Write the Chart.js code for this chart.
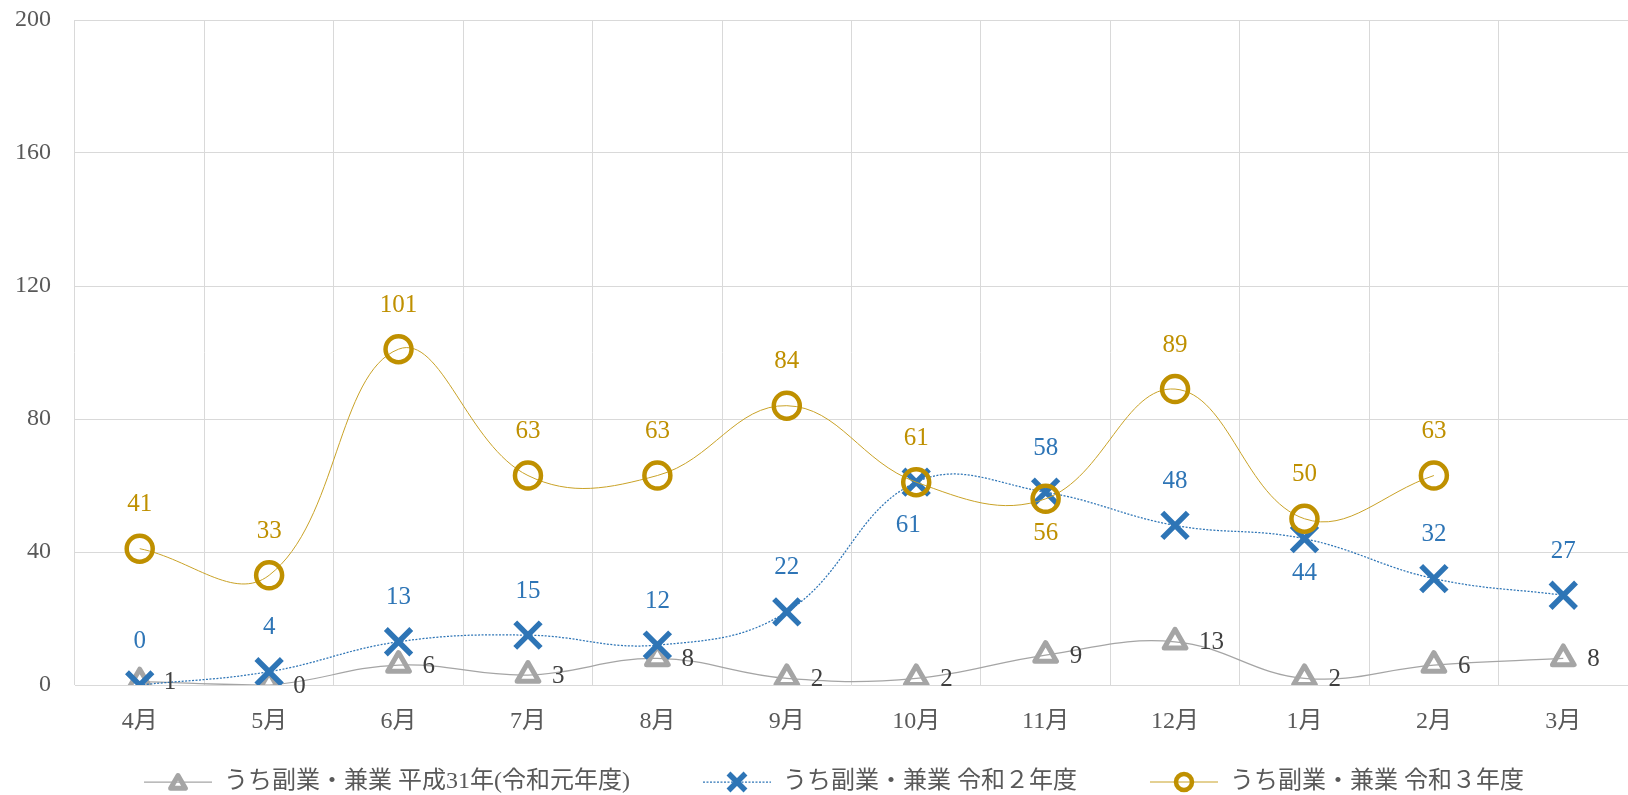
<!DOCTYPE html>
<html lang="ja">
<head>
<meta charset="utf-8">
<title>うち副業・兼業</title>
<script src="https://cdn.jsdelivr.net/npm/chart.js@4"></script>
<style>
    html, body { margin: 0; padding: 0; background: #ffffff; overflow: hidden; }
    #chart { display: block; }
</style>
</head>
<body>
<canvas id="chart" width="1628" height="795"></canvas>
<script>
// ========================
// Data
// ========================
const months = ['4月', '5月', '6月', '7月', '8月', '9月', '10月', '11月', '12月', '1月', '2月', '3月'];
const yTicks = [0, 40, 80, 120, 160, 200];

const seriesNames = [
    'うち副業・兼業 平成31年(令和元年度)',
    'うち副業・兼業 令和２年度',
    'うち副業・兼業 令和３年度'
];
const fy2019 = [1, 0, 6, 3, 8, 2, 2, 9, 13, 2, 6, 8];
const fy2020 = [0, 4, 13, 15, 12, 22, 61, 58, 48, 44, 32, 27];
const fy2021 = [41, 33, 101, 63, 63, 84, 61, 56, 89, 50, 63, null];

const FONT = "'Liberation Serif', 'Noto Sans CJK JP', serif";
const TEXT_GRAY = '#595959';

// ========================
// Plugins
// ========================

// rounded corners on the hollow markers
const markerJoin = {
    id: 'markerJoin',
    beforeDatasetsDraw(chart) {
        chart.ctx.lineJoin = 'round';
    },
    afterDatasetsDraw(chart) {
        chart.ctx.lineJoin = 'miter';
    }
};

// value labels next to each point
const dataLabels = {
    id: 'dataLabels',
    afterDatasetsDraw(chart) {
        const ctx = chart.ctx;
        ctx.save();
        ctx.font = '25px ' + FONT;
        ctx.textBaseline = 'middle';
        chart.data.datasets.forEach((ds, di) => {
            const meta = chart.getDatasetMeta(di);
            const cfg = ds.labels;
            meta.data.forEach((pt, i) => {
                const v = ds.data[i];
                if (v === null || v === undefined) return;
                let x = pt.x, y = pt.y;
                let align = 'center';
                const pos = (cfg.special && cfg.special[i]) || cfg.pos;
                if (pos === 'right') {
                    x += 24;
                    y += 1;
                    align = 'left';
                } else if (pos === 'above') {
                    y -= 44;
                } else if (pos === 'below') {
                    y += 35;
                } else if (pos === 'belowLeft') {
                    x -= 8;
                    y += 43;
                }
                ctx.fillStyle = cfg.color;
                ctx.textAlign = align;
                ctx.fillText(String(v), x, y);
            });
        });
        ctx.restore();
    }
};

// legend: line sample + marker + text, drawn below the axis
const lineLegend = {
    id: 'lineLegend',
    afterDraw(chart) {
        const ctx = chart.ctx;
        const sampleW = 68, textGap = 12, itemGap = 73;
        const y = 782;
        ctx.save();
        ctx.font = '24px ' + FONT;
        const widths = chart.data.datasets.map(ds => sampleW + textGap + ctx.measureText(ds.label).width);
        const total = widths.reduce((a, b) => a + b, 0) + itemGap * (widths.length - 1);
        let x = 834 - total / 2;
        chart.data.datasets.forEach((ds, k) => {
            ctx.save();
            ctx.strokeStyle = ds.borderColor;
            ctx.lineWidth = ds.borderWidth;
            ctx.setLineDash(ds.borderDash || []);
            ctx.beginPath();
            ctx.moveTo(x, y);
            ctx.lineTo(x + sampleW, y);
            ctx.stroke();
            ctx.restore();

            ctx.save();
            ctx.strokeStyle = ds.pointBorderColor;
            ctx.fillStyle = 'rgba(0,0,0,0)';
            ctx.lineWidth = ds.pointBorderWidth;
            ctx.lineJoin = 'round';
            Chart.helpers.drawPoint(ctx, {
                pointStyle: ds.pointStyle,
                radius: ds.legendRadius,
                borderWidth: ds.pointBorderWidth,
                rotation: 0
            }, x + sampleW / 2, y + (ds.pointStyle === 'triangle' ? 2 : 0));
            ctx.restore();

            ctx.fillStyle = TEXT_GRAY;
            ctx.textAlign = 'left';
            ctx.textBaseline = 'middle';
            ctx.fillText(ds.label, x + sampleW + textGap, y);
            x += widths[k] + itemGap;
        });
        ctx.restore();
    }
};

function series(idx, data, opts) {
    return Object.assign({
        label: seriesNames[idx],
        data: data,
        fill: false,
        tension: 0.4,
        spanGaps: false,
        pointBackgroundColor: 'rgba(0,0,0,0)',
        pointHoverRadius: 0
    }, opts);
}

const ctx = document.getElementById('chart');
const chart = new Chart(ctx, {
    type: 'line',
    data: {
        labels: months,
        datasets: [
            series(0, fy2019, {
                borderColor: '#A5A5A5',
                borderWidth: 1.25,
                pointStyle: 'triangle',
                pointRadius: 12.5,
                legendRadius: 8.5,
                pointBorderWidth: 5,
                pointBorderColor: '#A5A5A5',
                order: 2,
                labels: { pos: 'right', color: '#404040' }
            }),
            series(1, fy2020, {
                borderColor: '#2E75B6',
                borderWidth: 1.25,
                borderDash: [2, 1.5],
                pointStyle: 'crossRot',
                pointRadius: 18,
                legendRadius: 12,
                pointBorderWidth: 5.5,
                pointBorderColor: '#2E75B6',
                order: 1,
                labels: { pos: 'above', color: '#2E75B6', special: { 6: 'belowLeft', 9: 'below' } }
            }),
            series(2, fy2021, {
                borderColor: '#C9A227',
                borderWidth: 1,
                pointStyle: 'circle',
                pointRadius: 13,
                legendRadius: 8,
                pointBorderWidth: 4.5,
                pointBorderColor: '#BF9000',
                order: 0,
                labels: { pos: 'above', color: '#BF9000', special: { 7: 'below' } }
            })
        ]
    },
    options: {
        responsive: false,
        animation: false,
        layout: {
            autoPadding: false,
            padding: { top: 20, right: 0, bottom: 0, left: 0 }
        },
        plugins: {
            legend: { display: false },
            tooltip: { enabled: false }
        },
        scales: {
            x: {
                offset: true,
                grid: { offset: true, color: '#D9D9D9', lineWidth: 1, drawTicks: false },
                border: { display: false },
                ticks: {
                    padding: 22,
                    color: TEXT_GRAY,
                    font: { size: 24, family: FONT },
                    maxRotation: 0,
                    autoSkip: false
                },
                afterFit(scale) {
                    scale.height = 110;
                    scale.paddingLeft = 0;
                    scale.paddingRight = 0;
                }
            },
            y: {
                min: 0,
                max: 200,
                afterBuildTicks(scale) {
                    scale.ticks = yTicks.map(v => ({ value: v }));
                },
                grid: { color: '#D9D9D9', lineWidth: 1, drawTicks: false },
                border: { display: false },
                ticks: {
                    padding: 24,
                    color: TEXT_GRAY,
                    font: { size: 24, family: FONT }
                },
                afterFit(scale) {
                    scale.width = 75;
                    scale.paddingTop = 0;
                    scale.paddingBottom = 0;
                }
            }
        }
    },
    plugins: [markerJoin, dataLabels, lineLegend]
});
</script>
</body>
</html>
